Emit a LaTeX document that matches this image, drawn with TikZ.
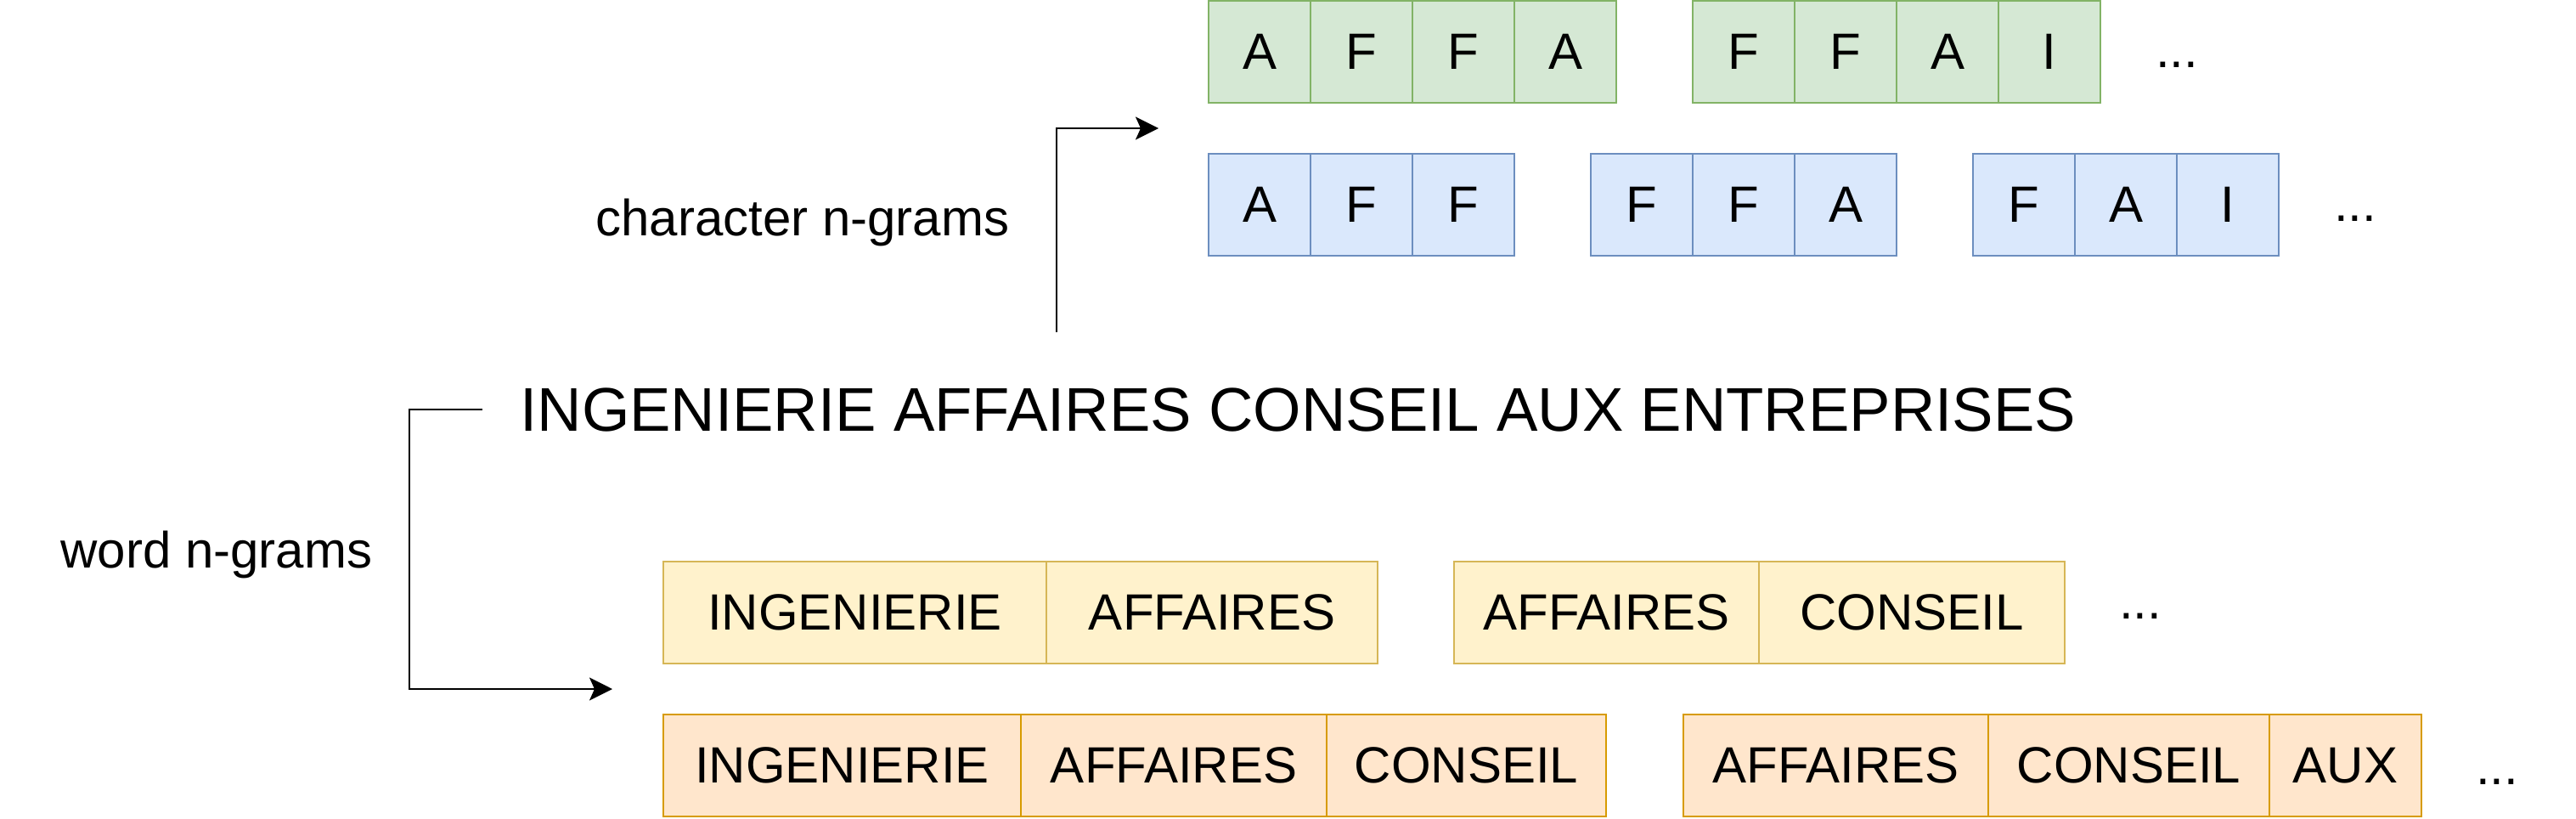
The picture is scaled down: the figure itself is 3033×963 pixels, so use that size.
\documentclass[tikz,border=0pt]{standalone}
\usepackage{fontspec}
\setmainfont{Liberation Sans}
\usetikzlibrary{arrows.meta}
\definecolor{greenfill}{HTML}{D5E8D4}
\definecolor{greendraw}{HTML}{82B366}
\definecolor{bluefill}{HTML}{DAE8FC}
\definecolor{bluedraw}{HTML}{6C8EBF}
\definecolor{yellowfill}{HTML}{FFF2CC}
\definecolor{yellowdraw}{HTML}{D6B656}
\definecolor{orangefill}{HTML}{FFE6CC}
\definecolor{orangedraw}{HTML}{D79B00}

\begin{document}
\begin{tikzpicture}[x=0.5pt,y=-0.5pt]
			\tikzset{mycell/.style={rectangle, draw, line width=1.2pt, inner sep=0pt, outer sep=0pt, minimum height=60pt, font=\fontsize{30}{36}\selectfont}}
			\tikzset{mycell green/.style={mycell, draw=greendraw, fill=greenfill, minimum width=60pt}}
			\tikzset{mycell blue/.style={mycell, draw=bluedraw, fill=bluefill, minimum width=60pt}}
			\tikzset{mycell yellow/.style={mycell, draw=yellowdraw, fill=yellowfill}}
			\tikzset{mycell orange/.style={mycell, draw=orangedraw, fill=orangefill}}
			\tikzset{mylabel/.style={anchor=base, inner sep=0pt, font=\fontsize{30}{36}\selectfont}}
			\tikzset{myarrow/.style={line width=1.1pt, -{Stealth[length=13.5pt, width=13.5pt, inset=3pt]}}}
			\useasboundingbox (0,0) rectangle (3033,963);

			\draw (568,507) node [anchor=base west, inner xsep=22pt, inner ysep=0pt, font=\fontsize{36.3}{44}\selectfont] (sentence) {INGENIERIE AFFAIRES CONSEIL AUX ENTREPRISES};

			% character n-grams
			\draw (1483,61) node [mycell green] (GA1) {A};
			\draw (1603,61) node [mycell green] (GA2) {F};
			\draw (1723,61) node [mycell green] (GA3) {F};
			\draw (1843,61) node [mycell green] (GA4) {A};

			\draw (2053,61) node [mycell green] (GB1) {F};
			\draw (2173,61) node [mycell green] (GB2) {F};
			\draw (2293,61) node [mycell green] (GB3) {A};
			\draw (2413,61) node [mycell green] (GB4) {I};
			\draw (2563,80) node [mylabel] (Gdots) {...};

			\draw (1483,241) node [mycell blue] (BA1) {A};
			\draw (1603,241) node [mycell blue] (BA2) {F};
			\draw (1723,241) node [mycell blue] (BA3) {F};

			\draw (1933,241) node [mycell blue] (BB1) {F};
			\draw (2053,241) node [mycell blue] (BB2) {F};
			\draw (2173,241) node [mycell blue] (BB3) {A};

			\draw (2383,241) node [mycell blue] (BC1) {F};
			\draw (2503,241) node [mycell blue] (BC2) {A};
			\draw (2623,241) node [mycell blue] (BC3) {I};
			\draw (2773,260) node [mylabel] (Bdots) {...};

			% word n-grams
			\draw (1006.5,721) node [mycell yellow, minimum width=225.5pt] (YA1) {INGENIERIE};
			\draw (1427,721) node [mycell yellow, minimum width=195pt] (YA2) {AFFAIRES};

			\draw (1891.5,721) node [mycell yellow, minimum width=179.5pt] (YB1) {AFFAIRES};
			\draw (2251,721) node [mycell yellow, minimum width=180pt] (YB2) {CONSEIL};
			\draw (2520,728) node [mylabel] (Ydots) {...};

			\draw (991.5,901) node [mycell orange, minimum width=210.5pt] (OA1) {INGENIERIE};
			\draw (1382,901) node [mycell orange, minimum width=180pt] (OA2) {AFFAIRES};
			\draw (1726.5,901) node [mycell orange, minimum width=164.5pt] (OA3) {CONSEIL};

			\draw (2161.5,901) node [mycell orange, minimum width=179.5pt] (OB1) {AFFAIRES};
			\draw (2506.5,901) node [mycell orange, minimum width=165.5pt] (OB2) {CONSEIL};
			\draw (2761.5,901) node [mycell orange, minimum width=89.5pt] (OB3) {AUX};
			\draw (2940,923) node [mylabel] (Odots) {...};

			% arrows
			\draw (945,277) node [mylabel] (charlabel) {character n-grams};
			\draw (255,668) node [mylabel] (wordlabel) {word n-grams};
			\coordinate (charstart) at (1244,391);
			\coordinate (charend) at (1364,151);
			\coordinate (wordend) at (721,811);
			\draw [myarrow] (charstart) |- (charend);
			\draw [myarrow] (sentence.west) -- ++(-86,0) |- (wordend);
		\end{tikzpicture}
\end{document}
